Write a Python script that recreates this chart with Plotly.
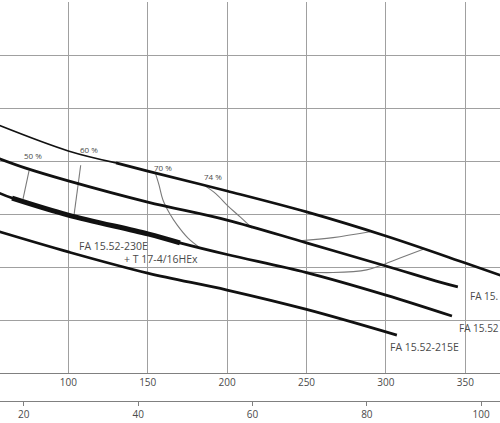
#!/usr/bin/env python3
"""Pump performance curves (FA 15.52 series), flow in m3/h with l/s scale below."""

import plotly.graph_objects as go

# flow (m3/h) vs head (m)
q_a = [55, 100, 130, 150, 200, 250, 300, 350, 375]
h_a = [9.38, 8.38, 7.93, 7.62, 6.87, 6.08, 5.17, 4.15, 3.63]

q_b = [55, 72.7, 100, 150, 200, 250, 300, 334, 345.3]
h_b = [8.12, 7.74, 7.25, 6.45, 5.77, 4.91, 4.04, 3.43, 3.25]

q_c = [55, 64.6, 100, 150, 170.3, 200, 250, 300, 341.6]
h_c = [6.83, 6.60, 5.96, 5.25, 4.91, 4.47, 3.79, 2.94, 2.15]

q_d = [55, 100, 150, 200, 250, 306.9]
h_d = [5.36, 4.57, 3.77, 3.13, 2.40, 1.43]

# efficiency iso-lines
eff50_q = [75.3, 71.5]
eff50_h = [7.64, 6.57]
eff60_q = [107.8, 103.6]
eff60_h = [7.84, 5.96]
eff70_left_q = [154.6, 157.1, 159.6, 164.0, 168.5, 175.4, 183.0]
eff70_left_h = [7.59, 7.10, 6.53, 6.00, 5.59, 5.09, 4.72]
eff70_right_q = [247.8, 266.7, 287.9, 296.2, 308.9, 323.5]
eff70_right_h = [3.81, 3.79, 3.89, 4.05, 4.34, 4.67]
eff74_left_q = [186.1, 193.0, 200.6, 208.2, 215.7]
eff74_left_h = [7.06, 6.76, 6.30, 5.89, 5.47]
eff74_right_q = [246.0, 266.7, 290.0]
eff74_right_h = [4.99, 5.11, 5.33]

flow_ticks = [100, 150, 200, 250, 300, 350]
ls_ticks = [20, 40, 60, 80, 100]

Q_RANGE = [56.99, 371.84]
M3H_PER_LS = 3.6

FONT = "Open Sans"
TEXT = "#4a4a4a"
GRID = "#a0a0a0"


def curve(q, h, width, shape="spline"):
    return go.Scatter(
        x=q, y=h, mode="lines", showlegend=False, hoverinfo="skip",
        line=dict(color="#111111", width=width, shape=shape),
    )


def eff_line(q, h):
    return go.Scatter(
        x=q, y=h, mode="lines", showlegend=False, hoverinfo="skip",
        line=dict(color="#7a7a7a", width=1.1, shape="spline"),
    )


def main() -> None:
    fig = go.Figure()

    # efficiency lines under the pump curves
    for q, h in (
        (eff50_q, eff50_h), (eff60_q, eff60_h),
        (eff70_left_q, eff70_left_h), (eff70_right_q, eff70_right_h),
        (eff74_left_q, eff74_left_h), (eff74_right_q, eff74_right_h),
    ):
        fig.add_trace(eff_line(q, h))

    fig.add_trace(curve(q_a[:3], h_a[:3], 1.6))
    fig.add_trace(curve(q_a[2:], h_a[2:], 2.7))
    fig.add_trace(curve(q_b, h_b, 2.7))
    fig.add_trace(curve(q_c, h_c, 2.7))
    fig.add_trace(curve(q_c[1:5], h_c[1:5], 5.0))
    fig.add_trace(curve(q_d, h_d, 2.7))

    # l/s scale
    fig.add_trace(go.Scatter(x=[ls_ticks[0], ls_ticks[-1]], y=[None, None],
                             xaxis="x2", mode="lines", showlegend=False,
                             hoverinfo="skip"))

    small = dict(family=FONT, size=8, color=TEXT)
    for txt, x, y in (("50 %", 77.8, 8.19), ("60 %", 113.0, 8.45),
                      ("70 %", 159.6, 7.77), ("74 %", 191.1, 7.40)):
        fig.add_annotation(x=x, y=y, text=txt, showarrow=False, font=small)

    # right-hand labels run off the crop; keep only the visible part
    for txt, x, y, size in (
        ("FA 15.52-230E", 105.5, 4.79, 10.5),
        ("+ T 17-4/16HEx", 133.9, 4.30, 10.5),
        ("FA 15.", 351.7, 2.91, 10),
        ("FA 15.52", 344.8, 1.70, 10),
        ("FA 15.52-215E", 301.3, 0.98, 10.5),
    ):
        fig.add_annotation(x=x, y=y, text=txt, showarrow=False,
                           font=dict(family=FONT, size=size, color=TEXT),
                           xanchor="left", yanchor="middle")

    fig.update_layout(
        width=500,
        height=423,
        margin=dict(l=0, r=0, t=2, b=22),
        plot_bgcolor="white",
        paper_bgcolor="white",
        font=dict(family=FONT, size=10, color=TEXT),
        xaxis=dict(
            range=Q_RANGE, tickvals=flow_ticks, showgrid=True,
            gridcolor=GRID, gridwidth=1.4, showline=True, linecolor="#808080",
            linewidth=1.4, ticks="", zeroline=False,
        ),
        xaxis2=dict(
            range=[Q_RANGE[0] / M3H_PER_LS, Q_RANGE[1] / M3H_PER_LS],
            tickvals=ls_ticks, overlaying="x", anchor="free", position=0,
            side="bottom", showgrid=False, showline=True, linecolor="#808080",
            linewidth=1.4, ticks="outside", ticklen=4, tickcolor="#808080",
            zeroline=False,
        ),
        yaxis=dict(
            range=[0, 14], dtick=2, domain=[28 / 399, 1], showticklabels=False,
            showgrid=True, gridcolor=GRID, gridwidth=1.4, zeroline=False,
        ),
    )

    # page body has a default 8px margin; drop it so the chart fills the window
    fig.write_html(
        "out.html",
        config={"displayModeBar": False},
        post_script="document.body.style.margin='0';",
    )


if __name__ == "__main__":
    main()
